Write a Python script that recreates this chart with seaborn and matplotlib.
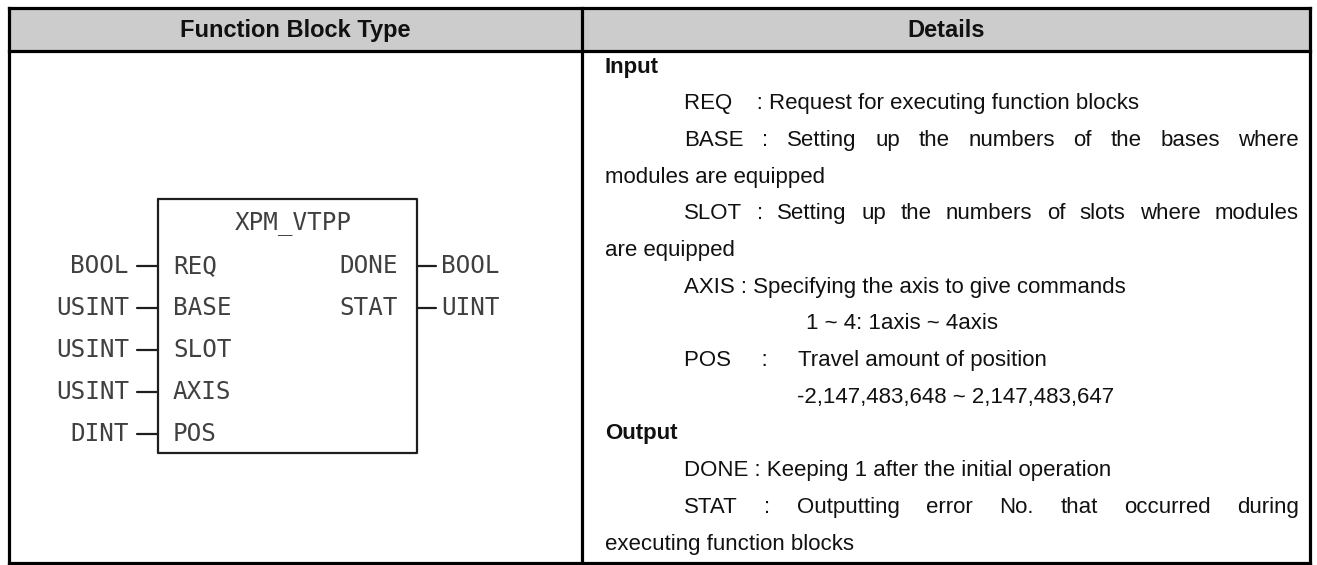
import matplotlib
matplotlib.use("Agg")
import matplotlib.pyplot as plt
import seaborn as sns

# table content
header_labels = ["Function Block Type", "Details"]
block_name = "XPM_VTPP"
input_types = ["BOOL", "USINT", "USINT", "USINT", "DINT"]
input_pins = ["REQ", "BASE", "SLOT", "AXIS", "POS"]
output_pins = ["DONE", "STAT"]
output_types = ["BOOL", "UINT"]

# (text, kind, justified)
detail_lines = [
    ("Input", "head", False),
    ("REQ    : Request for executing function blocks", "item", False),
    ("BASE : Setting up the numbers of the bases where", "item", True),
    ("modules are equipped", "cont", False),
    ("SLOT : Setting up the numbers of slots where modules", "item", True),
    ("are equipped", "cont", False),
    ("AXIS : Specifying the axis to give commands", "item", False),
    ("1 ~ 4: 1axis ~ 4axis", "range1", False),
    ("POS     :     Travel amount of position", "item", False),
    ("-2,147,483,648 ~ 2,147,483,647", "range2", False),
    ("Output", "head", False),
    ("DONE : Keeping 1 after the initial operation", "item", False),
    ("STAT : Outputting error No. that occurred during", "item", True),
    ("executing function blocks", "cont", False),
]

sns.set_theme(style="white")
plt.rcParams["font.family"] = ["Liberation Sans", "DejaVu Sans"]
body_size, head_size = 16, 17

W, H = 1317, 565
fig = plt.figure(figsize=(W / 100, H / 100), dpi=100)
ax = fig.add_axes([0, 0, 1, 1])
ax.set_xlim(0, W)
ax.set_ylim(H, 0)
ax.axis("off")

# table frame
left, right, top, hdr, bottom, mid = 9, 1310, 8, 51, 563, 582
ax.fill_between([left, right], top, hdr, color="#cccccc", zorder=0)
lw = 2.3
for y in (top, hdr, bottom):
    ax.plot([left, right], [y, y], color="black", lw=lw, solid_capstyle="projecting")
for x in (left, mid, right):
    ax.plot([x, x], [top, bottom], color="black", lw=lw, solid_capstyle="projecting")

ax.text((left + mid) / 2, (top + hdr) / 2 + 1, header_labels[0], ha="center", va="center",
        fontsize=head_size, fontweight="bold", color="#111111")
ax.text((mid + right) / 2, (top + hdr) / 2 + 1, header_labels[1], ha="center", va="center",
        fontsize=head_size, fontweight="bold", color="#111111")

# function block drawing
mono = dict(family="DejaVu Sans Mono", fontsize=17.5, color="#404040")
bx0, bx1, by0, by1 = 158, 417, 199, 453
ax.plot([bx0, bx1, bx1, bx0, bx0], [by0, by0, by1, by1, by0], color="#1e1e1e", lw=1.6)
ax.text(293, 223, block_name, ha="center", va="center", **mono)
row0, step = 266, 42
for i, (t, p) in enumerate(zip(input_types, input_pins)):
    y = row0 + i * step
    ax.text(129, y, t, ha="right", va="center", **mono)
    ax.plot([137, bx0], [y, y], color="#1e1e1e", lw=1.6)
    ax.text(173, y, p, ha="left", va="center", **mono)
for i, (p, t) in enumerate(zip(output_pins, output_types)):
    y = row0 + i * step
    ax.text(398, y, p, ha="right", va="center", **mono)
    ax.plot([bx1, 436], [y, y], color="#1e1e1e", lw=1.6)
    ax.text(441, y, t, ha="left", va="center", **mono)

# details column
x_head, x_item, x_r1, x_r2, x_end = 605, 684, 806, 797, 1299
y0, dy = 67, 36.7
fig.canvas.draw()
renderer = fig.canvas.get_renderer()
for i, (txt, kind, just) in enumerate(detail_lines):
    y = y0 + i * dy
    if kind == "head":
        ax.text(x_head, y, txt, ha="left", va="center", fontsize=body_size,
                fontweight="bold", color="#111111")
        continue
    x = {"item": x_item, "cont": x_head, "range1": x_r1, "range2": x_r2}[kind]
    if not just:
        ax.text(x, y, txt, ha="left", va="center", fontsize=body_size, color="#111111")
        continue
    words = txt.split()
    objs = [ax.text(0, y, w, ha="left", va="center", fontsize=body_size, color="#111111")
            for w in words]
    widths = [o.get_window_extent(renderer).width for o in objs]
    gap = (x_end - x - sum(widths)) / (len(words) - 1)
    cx = x
    for o, w in zip(objs, widths):
        o.set_x(cx)
        cx += w + gap

fig.savefig("out.png", dpi=100)
